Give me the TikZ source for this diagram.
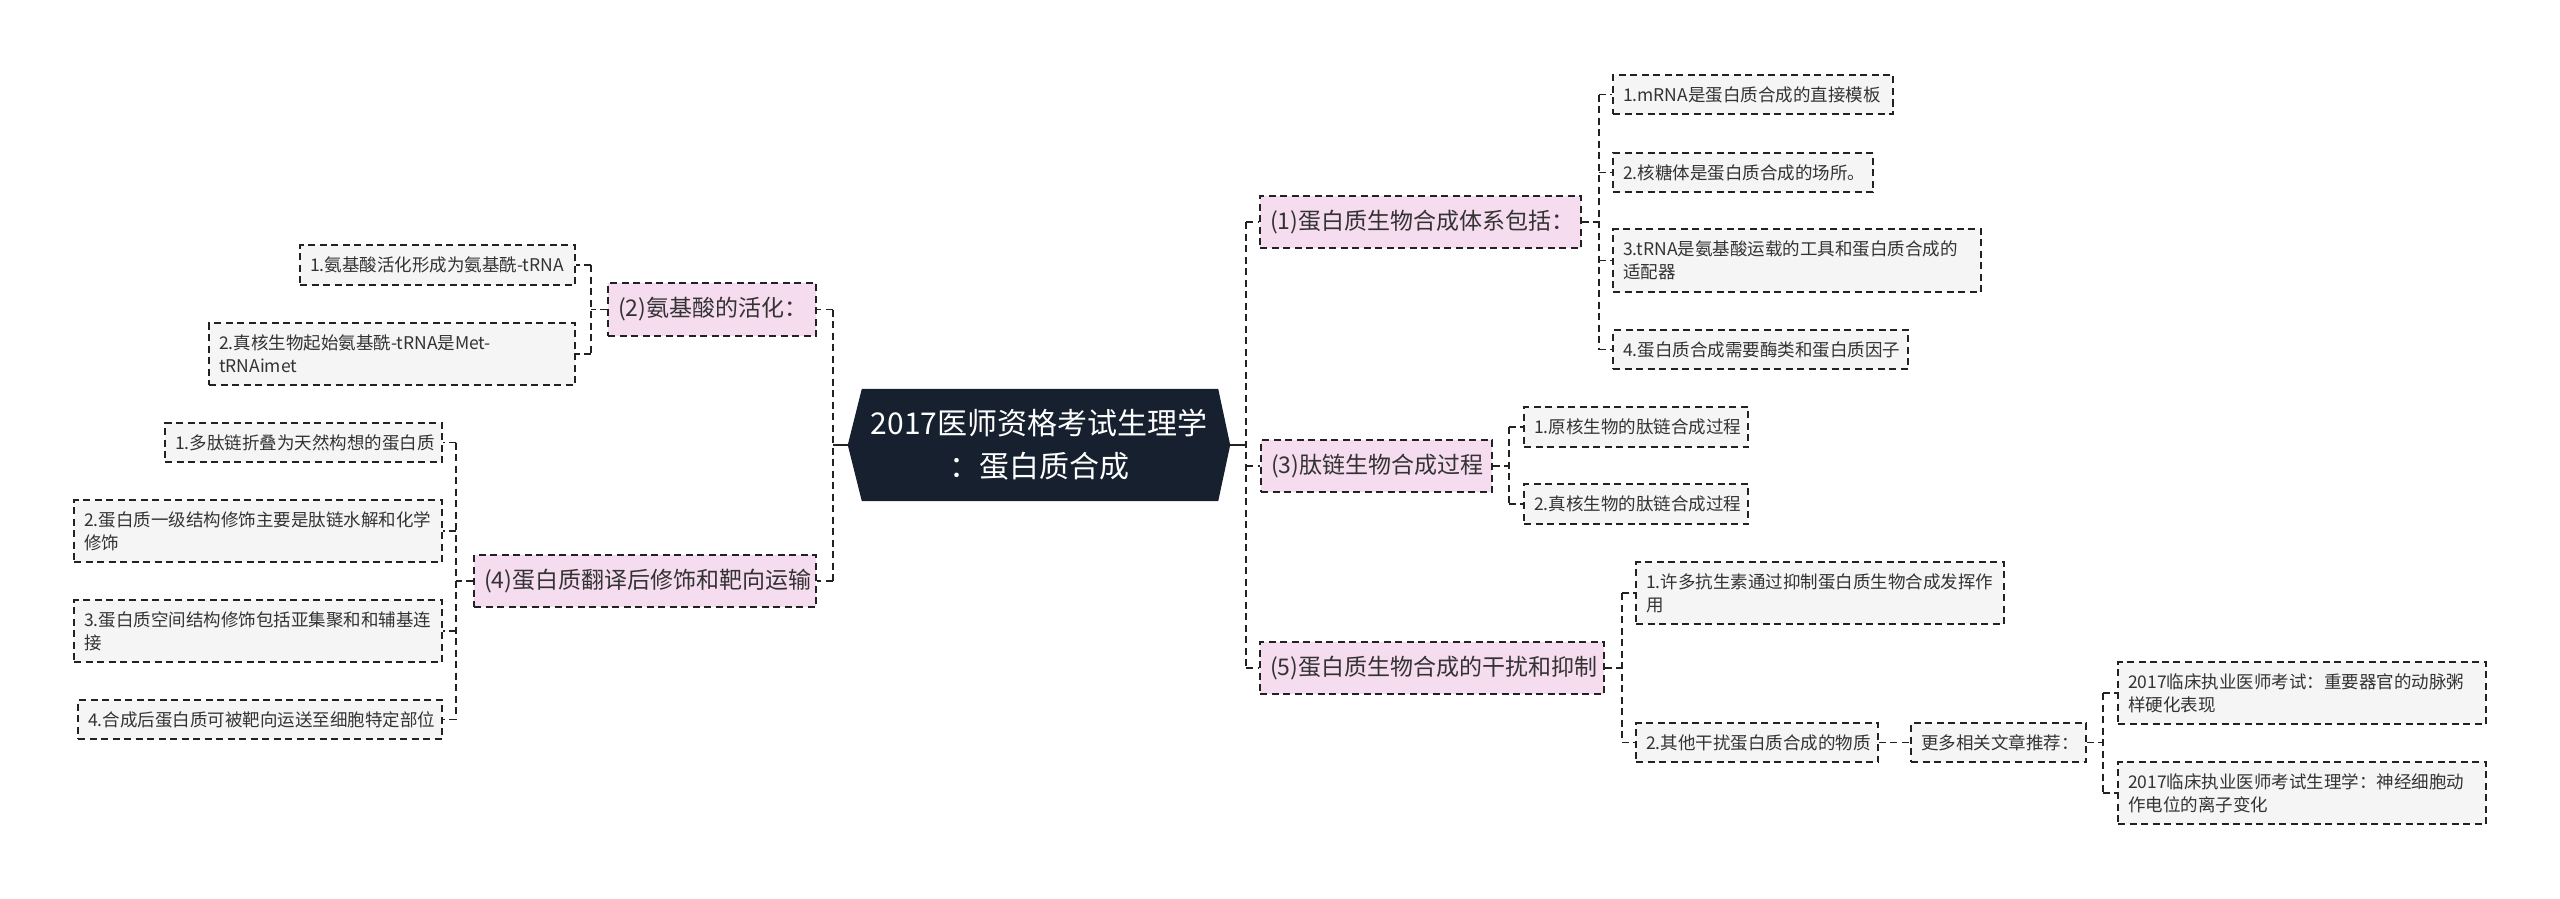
\documentclass[tikz,border=0pt]{standalone}
\usepackage{fontspec}
\newfontfamily\cjk{Noto Sans CJK SC}
\usetikzlibrary{calc,backgrounds}
\definecolor{navy}{HTML}{16202E}
\definecolor{pinkf}{HTML}{F6DCEF}
\definecolor{grayf}{HTML}{F5F5F5}
\definecolor{txt}{HTML}{333333}
\definecolor{lin}{HTML}{222222}
\tikzset{
  boxbase/.style={draw=lin, line width=1.5pt, dash pattern=on 7pt off 4.5pt,
    align=left, inner xsep=10pt, inner ysep=0pt, text=txt},
  leaf/.style={boxbase, fill=grayf, font=\cjk\fontsize{17.5}{23}\selectfont},
  topic/.style={boxbase, fill=pinkf, font=\cjk\fontsize{23}{28}\selectfont},
  link/.style={draw=lin, line width=1.7pt, dash pattern=on 7pt off 4.5pt},
  solidlink/.style={draw=lin, line width=2.4pt},
}
\begin{document}
\begin{tikzpicture}[x=1pt,y=-1pt]
\useasboundingbox (0,0) rectangle (2560,899);
% root
\node[font=\cjk\fontsize{30}{43}\selectfont, text=white, align=center,
  minimum width=382pt, minimum height=112pt, inner sep=0pt] (root) at (1039,445)
  {2017医师资格考试生理学\\：蛋白质合成};
\begin{scope}[on background layer]
  \fill[white] (0,0) rectangle (2560,899);
  \fill[navy] (root.west) -- ($(root.north west)+(14,0)$) -- ($(root.north east)+(-12,0)$)
    -- (root.east) -- ($(root.south east)+(-12,0)$) -- ($(root.south west)+(14,0)$) -- cycle;
\end{scope}

% level 1 right
\node[topic, text width=301pt, minimum height=52pt] (b1) at (1420.5,222) {(1)蛋白质生物合成体系包括：};
\node[topic, text width=211pt, minimum height=52pt] (b3) at (1376.5,466) {(3)肽链生物合成过程};
\node[topic, text width=324pt, minimum height=52pt] (b5) at (1432,668) {(5)蛋白质生物合成的干扰和抑制};
% level 1 left
\node[topic, text width=188pt, minimum height=53pt] (a2) at (712,309.5) {(2)氨基酸的活化：};
\node[topic, text width=322pt, minimum height=52pt] (a4) at (645,581) {(4)蛋白质翻译后修饰和靶向运输};

% children of b1
\node[leaf, text width=260pt, minimum height=39pt] (c11) at (1753,94.5) {1.mRNA是蛋白质合成的直接模板};
\node[leaf, text width=240pt, minimum height=39pt] (c12) at (1743,172.5) {2.核糖体是蛋白质合成的场所。};
\node[leaf, text width=348pt, minimum height=63pt] (c13) at (1797,260.5) {3.tRNA是氨基酸运载的工具和蛋白质合成的\\适配器};
\node[leaf, text width=275pt, minimum height=39pt] (c14) at (1760.5,349.5) {4.蛋白质合成需要酶类和蛋白质因子};
% children of b3
\node[leaf, text width=204pt, minimum height=40pt] (c31) at (1636,427) {1.原核生物的肽链合成过程};
\node[leaf, text width=204pt, minimum height=40pt] (c32) at (1636,504) {2.真核生物的肽链合成过程};
% children of b5
\node[leaf, text width=348pt, minimum height=62pt] (c51) at (1820,593) {1.许多抗生素通过抑制蛋白质生物合成发挥作\\用};
\node[leaf, text width=222pt, minimum height=39pt] (c52) at (1757,742.5) {2.其他干扰蛋白质合成的物质};
\node[leaf, text width=155pt, minimum height=39pt] (m) at (1998.5,742.5) {更多相关文章推荐：};
\node[leaf, text width=348pt, minimum height=62pt] (d1) at (2302,693) {2017临床执业医师考试：重要器官的动脉粥\\样硬化表现};
\node[leaf, text width=348pt, minimum height=62pt] (d2) at (2302,793) {2017临床执业医师考试生理学：神经细胞动\\作电位的离子变化};
% children of a2
\node[leaf, text width=255pt, minimum height=40pt] (e21) at (437.5,265) {1.氨基酸活化形成为氨基酰-tRNA};
\node[leaf, text width=346pt, minimum height=62pt] (e22) at (392,354) {2.真核生物起始氨基酰-tRNA是Met-\\tRNAimet};
% children of a4
\node[leaf, text width=257pt, minimum height=39pt] (e41) at (303.5,442.5) {1.多肽链折叠为天然构想的蛋白质};
\node[leaf, text width=348pt, minimum height=62pt] (e42) at (258,531) {2.蛋白质一级结构修饰主要是肽链水解和化学\\修饰};
\node[leaf, text width=348pt, minimum height=62pt] (e43) at (258,631) {3.蛋白质空间结构修饰包括亚集聚和和辅基连\\接};
\node[leaf, text width=344pt, minimum height=39pt] (e44) at (260,719.5) {4.合成后蛋白质可被靶向运送至细胞特定部位};

% junction coordinates
\coordinate (rj) at ($(root.east)+(16,0)$);
\coordinate (lj) at ($(root.west)+(-15,0)$);
\coordinate (j1) at ($(b1.east)+(17,0)$);
\coordinate (j3) at ($(b3.east)+(16,0)$);
\coordinate (j5) at ($(b5.east)+(17,0)$);
\coordinate (jm) at ($(m.east)+(16,0)$);
\coordinate (j2) at ($(a2.west)+(-16,0)$);
\coordinate (j4) at ($(a4.west)+(-17,0)$);

% root connectors
\draw[solidlink] (root.east) -- (rj);
\draw[solidlink] (root.west) -- (lj);
\draw[link] (rj |- b1.west) -- (rj |- b5.west);
\foreach \n in {b1,b3,b5} \draw[link] (rj |- \n.west) -- (\n.west);
\draw[link] (lj |- a2.east) -- (lj |- a4.east);
\foreach \n in {a2,a4} \draw[link] (lj |- \n.east) -- (\n.east);

% b1
\draw[link] (b1.east) -- (j1);
\draw[link] (j1 |- c11.west) -- (j1 |- c14.west);
\foreach \n in {c11,c12,c13,c14} \draw[link] (j1 |- \n.west) -- (\n.west);
% b3
\draw[link] (b3.east) -- (j3);
\draw[link] (j3 |- c31.west) -- (j3 |- c32.west);
\foreach \n in {c31,c32} \draw[link] (j3 |- \n.west) -- (\n.west);
% b5
\draw[link] (b5.east) -- (j5);
\draw[link] (j5 |- c51.west) -- (j5 |- c52.west);
\foreach \n in {c51,c52} \draw[link] (j5 |- \n.west) -- (\n.west);
% c52 -> m
\draw[link] (c52.east) -- (m.west);
% m
\draw[link] (m.east) -- (jm);
\draw[link] (jm |- d1.west) -- (jm |- d2.west);
\foreach \n in {d1,d2} \draw[link] (jm |- \n.west) -- (\n.west);
% a2
\draw[link] (a2.west) -- (j2);
\draw[link] (j2 |- e21.east) -- (j2 |- e22.east);
\foreach \n in {e21,e22} \draw[link] (j2 |- \n.east) -- (\n.east);
% a4
\draw[link] (a4.west) -- (j4);
\draw[link] (j4 |- e41.east) -- (j4 |- e44.east);
\foreach \n in {e41,e42,e43,e44} \draw[link] (j4 |- \n.east) -- (\n.east);
\end{tikzpicture}
\end{document}
